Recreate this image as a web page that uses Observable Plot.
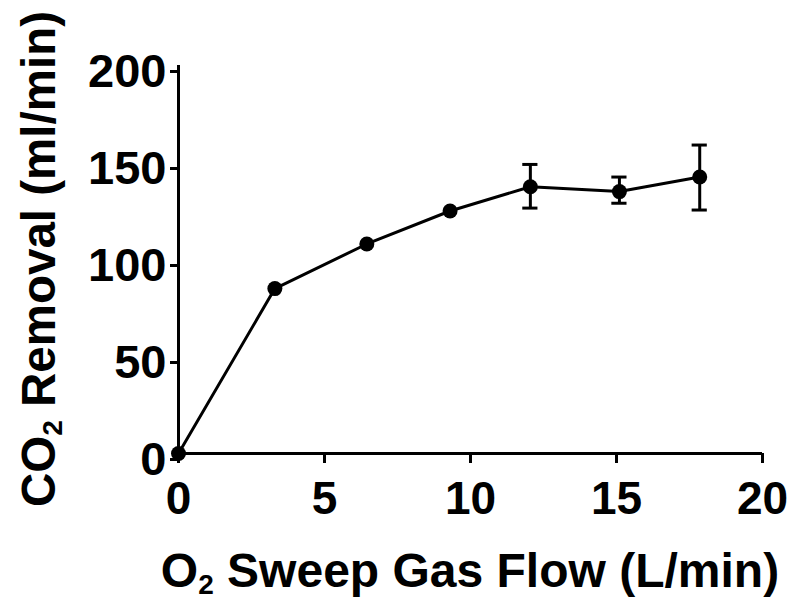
<!DOCTYPE html>
<html>
<head>
<meta charset="utf-8">
<script src="https://cdn.jsdelivr.net/npm/d3@7"></script>
<script src="https://cdn.jsdelivr.net/npm/@observablehq/plot@0.6"></script>
<style>
  html, body { margin: 0; padding: 0; background: #fff; }
  #chart svg { display: block; }
</style>
</head>
<body>
<div id="chart"></div>
<script>
// Data
const flow = [0, 3.3, 6.45, 9.3, 12.05, 15.1, 17.85];          // O2 sweep gas flow (L/min)
const removal = [0, 85, 108, 125, 137.5, 135, 142.5];           // CO2 removal (ml/min)
const errLow = [null, null, null, null, 126.5, 129, 125.5];
const errHigh = [null, null, null, null, 149, 142.5, 159];
const xTicks = [0, 5, 10, 15, 20];
const yTicks = [0, 50, 100, 150, 200];

const data = flow.map((x, i) => ({x, y: removal[i], lo: errLow[i], hi: errHigh[i]}));
const errData = data.filter(d => d.lo != null);
const capHalf = 0.26;

const font = "'Liberation Sans', Arial, Helvetica, sans-serif";

const chart = Plot.plot({
  width: 789,
  height: 601,
  marginLeft: 178,
  marginRight: 27,
  marginTop: 65,
  marginBottom: 148,
  style: {fontFamily: font, background: "#fff", color: "#000"},
  x: {domain: [0, 20]},
  y: {domain: [0, 200]},
  marks: [
    Plot.axisX({ticks: xTicks, tickSize: 10, tickPadding: 18, strokeWidth: 3, fontSize: 46, fontWeight: "bold", label: null, tickFormat: d => String(d)}),
    Plot.axisY({ticks: yTicks, tickSize: 8, tickPadding: 4, strokeWidth: 3, fontSize: 47, fontWeight: "bold", label: null, dy: 6, tickFormat: d => String(d)}),
    Plot.ruleY([0], {strokeWidth: 3}),
    Plot.ruleX([0], {strokeWidth: 3}),
    Plot.ruleX(errData, {x: "x", y1: "lo", y2: "hi", strokeWidth: 3}),
    Plot.ruleY(errData, {y: "hi", x1: d => d.x - capHalf, x2: d => d.x + capHalf, strokeWidth: 3}),
    Plot.ruleY(errData, {y: "lo", x1: d => d.x - capHalf, x2: d => d.x + capHalf, strokeWidth: 3}),
    Plot.line(data, {x: "x", y: "y", strokeWidth: 3, stroke: "#000"}),
    Plot.dot(data, {x: "x", y: "y", r: 7.5, fill: "#000", stroke: "none"})
  ]
});

document.getElementById("chart").appendChild(chart);

// Axis titles with subscripts
const svg = d3.select(chart);
const xt = svg.append("text")
  .attr("x", 470).attr("y", 587)
  .attr("text-anchor", "middle")
  .attr("font-family", font).attr("font-weight", "bold").attr("font-size", 48)
  .attr("fill", "#000");
xt.append("tspan").text("O");
xt.append("tspan").attr("font-size", 28).attr("dy", 7).text("2");
xt.append("tspan").attr("dy", -7).text(" Sweep Gas Flow (L/min)");

const yt = svg.append("text")
  .attr("transform", "translate(55,259) rotate(-90)")
  .attr("text-anchor", "middle")
  .attr("font-family", font).attr("font-weight", "bold").attr("font-size", 47.5)
  .attr("fill", "#000");
yt.append("tspan").text("CO");
yt.append("tspan").attr("font-size", 28).attr("dy", 7).text("2");
yt.append("tspan").attr("dy", -7).text(" Removal (ml/min)");
</script>
</body>
</html>
